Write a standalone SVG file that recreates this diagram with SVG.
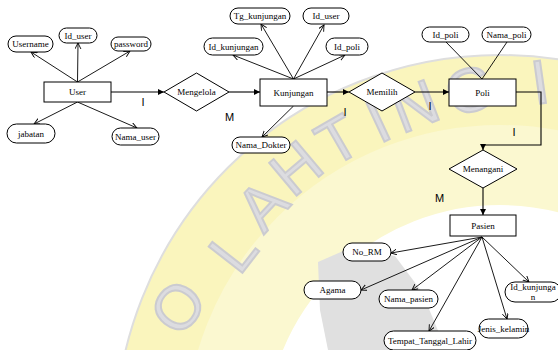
<svg xmlns="http://www.w3.org/2000/svg" width="558" height="350" viewBox="0 0 558 350">
<style>
.box{fill:#fff;stroke:#000;stroke-width:1}
.att{fill:#fff;stroke:#000;stroke-width:1}
.t{font-family:"Liberation Serif","Times New Roman",serif;font-size:9px;fill:#000;text-anchor:middle;dominant-baseline:central}
.lbl{font-family:"Liberation Sans",Arial,sans-serif;font-size:11px;fill:#000;text-anchor:middle}
.rel{fill:none;stroke:#000;stroke-width:1.1;marker-end:url(#af)}
.ar{fill:none;stroke:#000;stroke-width:0.9;marker-end:url(#ao)}
.ln{fill:none;stroke:#000;stroke-width:0.9}
.wm{font-family:"Liberation Sans",Arial,sans-serif;font-size:62px;fill:#dcdce0;stroke:#cbcbd0;stroke-width:2;text-anchor:middle;dominant-baseline:central}
</style>
<defs>
<marker id="af" markerUnits="userSpaceOnUse" markerWidth="7" markerHeight="7" refX="6" refY="3" orient="auto"><path d="M0,0 L6,3 L0,6 z" fill="#000"/></marker>
<marker id="ao" markerUnits="userSpaceOnUse" markerWidth="8" markerHeight="8" refX="6" refY="3" orient="auto"><path d="M0,0 L6,3 L0,6" fill="none" stroke="#000" stroke-width="0.9"/></marker>
</defs>
<rect width="558" height="350" fill="#fff"/>
<g id="watermark">
<circle cx="500" cy="440" r="310" fill="none" stroke="#fbf8d0" stroke-width="150"/>
<circle cx="500" cy="440" r="350" fill="none" stroke="#faf5bd" stroke-width="70"/>
<circle cx="500" cy="440" r="385" fill="none" stroke="#dedede" stroke-width="2"/>
<path d="M318,262 L350,248 L395,256 L422,292 L446,350 L328,350 L320,310 Z" fill="#e0e0e0"/>
<text class="wm" transform="translate(178,307) rotate(-52)">O</text>
<text class="wm" transform="translate(233,250) rotate(-52)">L</text>
<text class="wm" transform="translate(262,205) rotate(-47)">A</text>
<text class="wm" transform="translate(296,168) rotate(-40)">H</text>
<text class="wm" transform="translate(338,140) rotate(-30)">T</text>
<text class="wm" transform="translate(378,121) rotate(-25)">I</text>
<text class="wm" transform="translate(415,106) rotate(-21)">N</text>
<text class="wm" transform="translate(470,90) rotate(-16)">G</text>
<text class="wm" transform="translate(540,82) rotate(-8)">I</text>
</g>
<g id="connectors">
<path class="ar" d="M77.5,82 L31,52"/>
<path class="ar" d="M77.5,82 L78,43"/>
<path class="ar" d="M77.5,82 L130,51"/>
<path class="ar" d="M77.5,102 L34,124"/>
<path class="ar" d="M77.5,102 L137,128"/>
<path class="rel" d="M111,92 L164,92"/>
<path class="rel" d="M229,92 L260,92"/>
<path class="ar" d="M293.5,79 L261,24"/>
<path class="ar" d="M293.5,79 L324,25"/>
<path class="ar" d="M293.5,79 L233,55"/>
<path class="ar" d="M293.5,79 L345,55"/>
<path class="ar" d="M293.5,106 L262,137"/>
<path class="rel" d="M327,92 L349,92"/>
<path class="rel" d="M415,92 L449,92"/>
<path class="ln" d="M482,79 L446,42"/>
<path class="ln" d="M482,79 L507,42"/>
<path class="rel" d="M516,92 H541 V145 H483 V150"/>
<path class="rel" d="M483,188 L483,215"/>
<path class="ar" d="M482,237 L391,253"/>
<path class="ar" d="M482,237 L361,290"/>
<path class="ar" d="M482,237 L412,290"/>
<path class="ar" d="M482,237 L429,331"/>
<path class="ar" d="M482,237 L507,319"/>
<path class="ar" d="M482,237 L529,282"/>
<text class="lbl" x="143" y="106">I</text>
<text class="lbl" x="229.5" y="121">M</text>
<text class="lbl" x="345" y="116">I</text>
<text class="lbl" x="430" y="110">I</text>
<text class="lbl" x="514" y="136">I</text>
<text class="lbl" x="439.5" y="202">M</text>
</g>
<g id="user"><rect class="box" x="44" y="82" width="67" height="20"/><text class="t" x="77.5" y="92">User</text></g>
<g id="user_username"><rect class="att" x="8" y="36" width="45" height="16" rx="8"/><text class="t" x="30.5" y="44">Username</text></g>
<g id="user_id"><rect class="att" x="59" y="28" width="38" height="15" rx="7.5"/><text class="t" x="78" y="35.5">Id_user</text></g>
<g id="user_password"><rect class="att" x="111" y="37" width="40" height="14" rx="7"/><text class="t" x="131" y="44">password</text></g>
<g id="user_jabatan"><rect class="att" x="7" y="124" width="48" height="19" rx="9.5"/><text class="t" x="31" y="133.5">jabatan</text></g>
<g id="user_nama"><rect class="att" x="112" y="128" width="47" height="17" rx="8.5"/><text class="t" x="135.5" y="136.5">Nama_user</text></g>
<g id="mengelola"><polygon class="box" points="164,92 196.5,73 229,92 196.5,111"/><text class="t" x="196.5" y="92">Mengelola</text></g>
<g id="kunjungan"><rect class="box" x="260" y="79" width="67" height="27"/><text class="t" x="293.5" y="92.5">Kunjungan</text></g>
<g id="k_tg"><rect class="att" x="230" y="8" width="60" height="16" rx="8"/><text class="t" x="260" y="16">Tg_kunjungan</text></g>
<g id="k_iduser"><rect class="att" x="303" y="8" width="46" height="16" rx="8"/><text class="t" x="326" y="16">Id_user</text></g>
<g id="k_id"><rect class="att" x="204" y="38" width="59" height="17" rx="8.5"/><text class="t" x="233.5" y="46.5">Id_kunjungan</text></g>
<g id="k_idpoli"><rect class="att" x="326" y="38" width="42" height="17" rx="8.5"/><text class="t" x="347" y="46.5">Id_poli</text></g>
<g id="k_dokter"><rect class="att" x="232" y="137" width="58" height="16" rx="8"/><text class="t" x="261" y="145">Nama_Dokter</text></g>
<g id="memilih"><polygon class="box" points="349,92 382,73 415,92 382,111"/><text class="t" x="382" y="92">Memilih</text></g>
<g id="poli"><rect class="box" x="449" y="79" width="67" height="27"/><text class="t" x="482.5" y="92.5">Poli</text></g>
<g id="p_id"><rect class="att" x="422" y="27" width="47" height="15" rx="7.5"/><text class="t" x="445.5" y="34.5">Id_poli</text></g>
<g id="p_nama"><rect class="att" x="482" y="27" width="49" height="15" rx="7.5"/><text class="t" x="506.5" y="34.5">Nama_poli</text></g>
<g id="menangani"><polygon class="box" points="449,169 483,150 517,169 483,188"/><text class="t" x="483" y="169">Menangani</text></g>
<g id="pasien"><rect class="box" x="450" y="215" width="66" height="21"/><text class="t" x="483" y="225.5">Pasien</text></g>
<g id="ps_norm"><rect class="att" x="343" y="243" width="48" height="18" rx="9"/><text class="t" x="367" y="252">No_RM</text></g>
<g id="ps_agama"><rect class="att" x="304" y="281" width="57" height="18" rx="9"/><text class="t" x="332.5" y="290">Agama</text></g>
<g id="ps_nama"><rect class="att" x="379" y="290" width="59" height="18" rx="9"/><text class="t" x="408.5" y="299">Nama_pasien</text></g>
<g id="ps_ttl"><rect class="att" x="384" y="331" width="92" height="19" rx="9.5"/><text class="t" x="430" y="340.5">Tempat_Tanggal_Lahir</text></g>
<g id="ps_jk"><rect class="att" x="479" y="319" width="49" height="19" rx="9.5"/><text class="t" x="503.5" y="328.5">Jenis_kelamin</text></g>
<g id="ps_idk"><rect class="att" x="505" y="282" width="56" height="20" rx="10"/><text class="t" x="533" y="287">Id_kunjunga</text><text class="t" x="533" y="297">n</text></g>
</svg>
